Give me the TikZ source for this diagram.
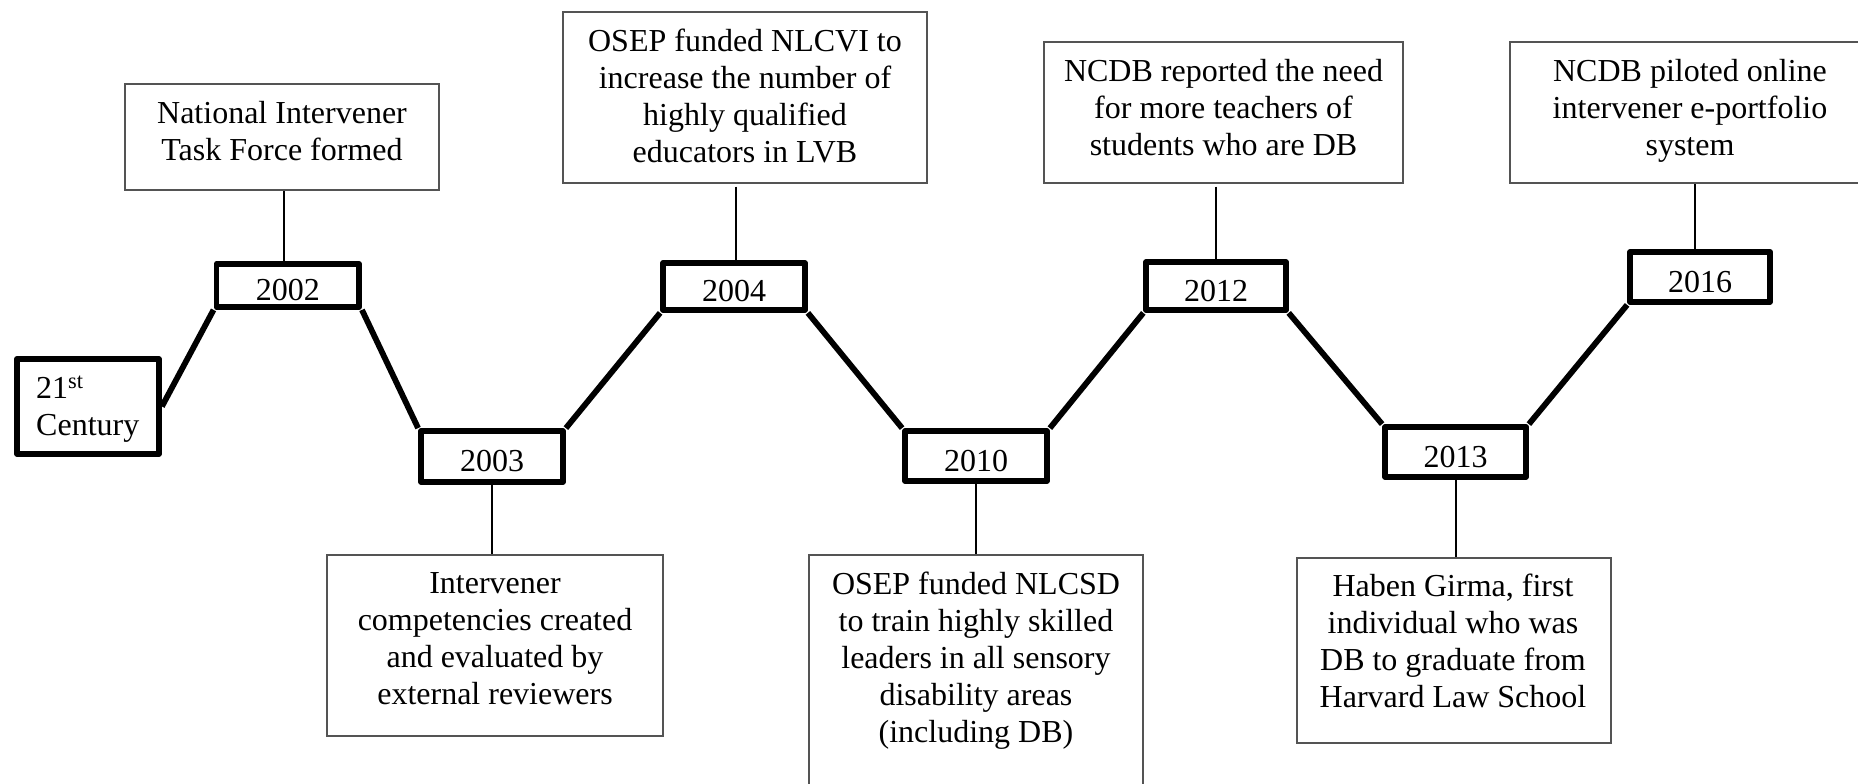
\documentclass[tikz,border=0pt]{standalone}
\usepackage{fontspec}
\setmainfont{Liberation Serif}
\begin{document}
\begin{tikzpicture}[x=1pt,y=-1pt,
  fnt/.style={font=\fontsize{32}{37}\selectfont},
  yearbox/.style={draw=black, line width=5.8pt, line join=round, fill=white, inner sep=0pt, fnt, text height=30pt, text depth=0pt},
  infobox/.style={draw=black!67, line width=2pt, fill=white, inner sep=0pt},
  infotext/.style={anchor=north, align=center, inner sep=0pt, fnt},
  conn/.style={draw=black, line width=2pt},
  zig/.style={draw=black, line width=5.8pt}]
\useasboundingbox (0,0) rectangle (1858,784);

% info boxes
\node[infobox, minimum width=314.5, minimum height=106] (tf) at (281.75,137) {};
\node[infobox, minimum width=364, minimum height=171] (os1) at (745,97.5) {};
\node[infobox, minimum width=359, minimum height=141] (nc1) at (1223.5,112.5) {};
\node[infobox, minimum width=360, minimum height=141] (nc2) at (1690,112.5) {};
\node[infobox, minimum width=336, minimum height=181] (iv) at (495,645.5) {};
\node[infobox, minimum width=334, minimum height=254] (os2) at (976,682) {};
\node[infobox, minimum width=314, minimum height=185] (hg) at (1454,650.5) {};

\node[infotext] (tfT) at (282,101) {National Intervener\\Task Force formed};
\node[infotext] (os1T) at (745,29) {OSEP funded NLCVI to\\increase the number of\\highly qualified\\educators in LVB};
\node[infotext] (nc1T) at (1223.5,59) {NCDB reported the need\\for more teachers of\\students who are DB};
\node[infotext] (nc2T) at (1690,59) {NCDB piloted online\\intervener e-portfolio\\system};
\node[infotext] (ivT) at (495,572) {Intervener\\competencies created\\and evaluated by\\external reviewers};
\node[infotext] (os2T) at (976,572) {OSEP funded NLCSD\\to train highly skilled\\leaders in all sensory\\disability areas\\(including DB)};
\node[infotext] (hgT) at (1453,574) {Haben Girma, first\\individual who was\\DB to graduate from\\Harvard Law School};

% year boxes
\node[yearbox, minimum width=142, minimum height=95] (c21) at (88,406.5) {};
\node[anchor=base west, inner sep=0pt, fnt] (c21a) at (36,398) {21\textsuperscript{st}};
\node[anchor=base west, inner sep=0pt, fnt] (c21b) at (36,435) {Century};
\node[yearbox, minimum width=142.6, minimum height=43] (y2002) at (287.75,285.5) {2002};
\node[yearbox, minimum width=142, minimum height=51] (y2003) at (492,456.5) {2003};
\node[yearbox, minimum width=142, minimum height=47] (y2004) at (734,286.5) {2004};
\node[yearbox, minimum width=142, minimum height=50] (y2010) at (976,456) {2010};
\node[yearbox, minimum width=139.6, minimum height=48] (y2012) at (1216,286) {2012};
\node[yearbox, minimum width=141, minimum height=50] (y2013) at (1455.5,452) {2013};
\node[yearbox, minimum width=140, minimum height=50] (y2016) at (1700,277) {2016};

% zigzag timeline
\draw[zig] (c21.east) -- (y2002.south west);
\draw[zig] (y2002.south east) -- (y2003.north west);
\draw[zig] (y2003.north east) -- (y2004.south west);
\draw[zig] (y2004.south east) -- (y2010.north west);
\draw[zig] (y2010.north east) -- (y2012.south west);
\draw[zig] (y2012.south east) -- (y2013.north west);
\draw[zig] (y2013.north east) -- (y2016.south west);

% connectors
\draw[conn] (tf.south -| 284,0) -- (y2002.north -| 284,0);
\draw[conn, shorten <=2.5pt] (os1.south -| 736,0) -- (y2004.north -| 736,0);
\draw[conn, shorten <=2.5pt] (nc1.south -| 1216,0) -- (y2012.north -| 1216,0);
\draw[conn] (nc2.south -| 1695,0) -- (y2016.north -| 1695,0);
\draw[conn] (y2003.south -| 492,0) -- (iv.north -| 492,0);
\draw[conn] (y2010.south -| 976,0) -- (os2.north -| 976,0);
\draw[conn] (y2013.south -| 1456,0) -- (hg.north -| 1456,0);
\end{tikzpicture}
\end{document}
